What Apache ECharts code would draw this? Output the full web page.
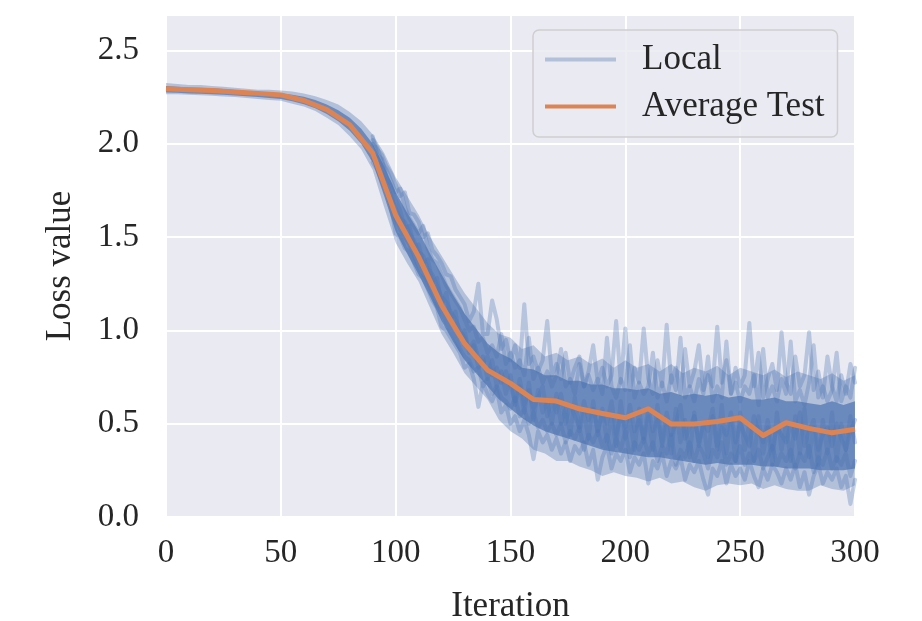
<!DOCTYPE html>
<html>
<head>
  <meta charset="utf-8">
  <title>Loss value</title>
  <script src="https://cdn.jsdelivr.net/npm/echarts@6/dist/echarts.min.js"></script>
  <style>
    html, body { margin: 0; padding: 0; background: #fff; }
    #chart { width: 922px; height: 621px; }
  </style>
</head>
<body>
<div id="chart"></div>
<script>
  // average test loss, every 10 iterations
  let testIters = [0, 10, 20, 30, 40, 50, 60, 70, 80, 90, 100, 110, 120, 130, 140, 150,
    160, 170, 180, 190, 200, 210, 220, 230, 240, 250, 260, 270, 280, 290, 300];
  let avgTest = [2.295, 2.29, 2.285, 2.278, 2.27, 2.262, 2.232, 2.183, 2.102, 1.95, 1.617,
    1.394, 1.135, 0.93, 0.787, 0.716, 0.63, 0.621, 0.58, 0.555, 0.532, 0.58, 0.498,
    0.498, 0.512, 0.532, 0.437, 0.505, 0.475, 0.451, 0.47];

  // spread of the local losses, every 5 iterations
  let bandIters = [];
  for (let it = 0; it <= 300; it += 5) bandIters.push(it);
  let outerHigh = [
    2.325, 2.32, 2.315, 2.315, 2.31, 2.305, 2.30, 2.295, 2.29, 2.29, 2.285, 2.28, 2.27,
    2.255, 2.235, 2.21, 2.17, 2.12, 2.05, 1.95, 1.82, 1.72, 1.62, 1.50, 1.40,
    1.30, 1.20, 1.12, 1.04, 0.98, 0.96, 0.90, 0.92, 0.86, 0.88, 0.84, 0.86,
    0.82, 0.85, 0.80, 0.84, 0.80, 0.82, 0.78, 0.82, 0.77, 0.80, 0.78, 0.81,
    0.76, 0.80, 0.78, 0.76, 0.79, 0.75, 0.78, 0.76, 0.74, 0.77, 0.73, 0.76];
  let outerLow = [
    2.265, 2.265, 2.262, 2.26, 2.257, 2.253, 2.25, 2.245, 2.24, 2.235, 2.23, 2.215, 2.2,
    2.175, 2.14, 2.1, 2.04, 1.97, 1.86, 1.66, 1.47, 1.36, 1.26, 1.12, 0.98,
    0.88, 0.77, 0.70, 0.63, 0.52, 0.46, 0.42, 0.36, 0.34, 0.30, 0.30, 0.27,
    0.25, 0.22, 0.24, 0.22, 0.21, 0.19, 0.21, 0.18, 0.19, 0.16, 0.14, 0.17,
    0.18, 0.17, 0.18, 0.15, 0.17, 0.15, 0.14, 0.14, 0.17, 0.15, 0.14, 0.17];
  let coreHigh = [
    2.31, 2.305, 2.302, 2.30, 2.298, 2.293, 2.288, 2.283, 2.278, 2.274, 2.27, 2.262, 2.252,
    2.235, 2.21, 2.18, 2.14, 2.08, 2.0, 1.88, 1.74, 1.63, 1.53, 1.41, 1.30,
    1.19, 1.09, 1.01, 0.93, 0.88, 0.85, 0.80, 0.79, 0.76, 0.76, 0.73, 0.73,
    0.71, 0.71, 0.69, 0.69, 0.68, 0.69, 0.66, 0.67, 0.65, 0.66, 0.65, 0.66,
    0.64, 0.65, 0.63, 0.63, 0.64, 0.62, 0.62, 0.61, 0.60, 0.62, 0.60, 0.62];
  let coreLow = [
    2.275, 2.273, 2.27, 2.268, 2.265, 2.262, 2.258, 2.254, 2.25, 2.245, 2.24, 2.228, 2.212,
    2.19, 2.16, 2.12, 2.07, 2.0, 1.90, 1.72, 1.53, 1.41, 1.30, 1.18, 1.05,
    0.94, 0.84, 0.77, 0.70, 0.63, 0.58, 0.53, 0.49, 0.46, 0.44, 0.42, 0.40,
    0.38, 0.36, 0.35, 0.34, 0.33, 0.32, 0.32, 0.31, 0.30, 0.29, 0.28, 0.29,
    0.28, 0.28, 0.28, 0.27, 0.27, 0.26, 0.26, 0.26, 0.25, 0.25, 0.25, 0.26];

  // single local curves, every 2 iterations from 90 to 300
  let localIters = [];
  for (let it = 90; it <= 300; it += 2) localIters.push(it);
  let localA = [
    2.00, 1.97, 1.94, 1.88, 1.84, 1.78, 1.72, 1.74, 1.63, 1.62,
    1.58, 1.50, 1.52, 1.43, 1.40, 1.36, 1.30, 1.29, 1.22, 1.18,
    1.14, 1.05, 1.10, 1.25, 0.98, 0.98, 1.16, 1.06, 0.90, 0.95,
    0.84, 0.92, 0.80, 1.14, 0.82, 0.86, 0.78, 0.84, 1.05, 0.76,
    0.82, 0.74, 0.88, 0.72, 0.80, 0.86, 0.70, 0.78, 0.92, 0.72,
    0.80, 0.70, 0.76, 1.05, 0.72, 1.01, 0.68, 0.80, 0.72, 1.01,
    0.74, 0.66, 0.84, 0.70, 1.03, 0.72, 0.80, 0.66, 0.90, 0.70,
    0.78, 0.92, 0.68, 0.76, 0.70, 1.02, 0.72, 0.84, 0.66, 0.80,
    0.70, 0.76, 1.04, 0.70, 0.88, 0.64, 0.74, 0.82, 0.68, 0.99,
    0.72, 0.66, 0.86, 0.70, 0.76, 0.99, 0.68, 0.78, 0.64, 0.86,
    0.70, 0.62, 0.76, 0.66, 0.82, 0.72];
  let localB = [
    1.90, 1.86, 1.80, 1.74, 1.66, 1.52, 1.50, 1.44, 1.42, 1.36,
    1.30, 1.28, 1.22, 1.16, 1.12, 1.02, 1.00, 0.96, 0.92, 0.88,
    0.80, 0.82, 0.74, 0.59, 0.72, 0.66, 0.62, 0.68, 0.56, 0.60,
    0.50, 0.54, 0.46, 0.52, 0.44, 0.31, 0.46, 0.40, 0.44, 0.36,
    0.42, 0.34, 0.40, 0.30, 0.38, 0.34, 0.40, 0.28, 0.36, 0.20,
    0.32, 0.38, 0.26, 0.34, 0.30, 0.36, 0.24, 0.32, 0.28, 0.34,
    0.18, 0.30, 0.26, 0.34, 0.22, 0.30, 0.26, 0.32, 0.20, 0.28,
    0.24, 0.30, 0.20, 0.12, 0.26, 0.22, 0.30, 0.18, 0.28, 0.22,
    0.26, 0.20, 0.30, 0.22, 0.16, 0.26, 0.20, 0.28, 0.24, 0.18,
    0.26, 0.20, 0.28, 0.16, 0.24, 0.12, 0.22, 0.28, 0.18, 0.24,
    0.20, 0.26, 0.16, 0.22, 0.07, 0.20];
  let localC = [
    1.95, 1.92, 1.85, 1.80, 1.72, 1.65, 1.60, 1.58, 1.52, 1.48,
    1.42, 1.40, 1.33, 1.30, 1.24, 1.18, 1.15, 1.10, 1.06, 1.00,
    0.96, 0.90, 0.94, 0.85, 0.82, 0.86, 0.76, 0.80, 0.72, 0.78,
    0.70, 0.62, 0.74, 0.60, 0.68, 0.58, 0.64, 0.70, 0.54, 0.62,
    0.56, 0.66, 0.50, 0.60, 0.54, 0.48, 0.62, 0.52, 0.58, 0.46,
    0.56, 0.50, 0.62, 0.44, 0.54, 0.48, 0.60, 0.46, 0.52, 0.42,
    0.58, 0.46, 0.52, 0.40, 0.56, 0.44, 0.50, 0.60, 0.42, 0.48,
    0.54, 0.40, 0.50, 0.46, 0.58, 0.38, 0.48, 0.44, 0.56, 0.40,
    0.50, 0.44, 0.38, 0.54, 0.46, 0.40, 0.52, 0.36, 0.48, 0.44,
    0.40, 0.50, 0.42, 0.56, 0.38, 0.46, 0.52, 0.36, 0.44, 0.48,
    0.38, 0.50, 0.42, 0.36, 0.46, 0.52];
  let localD = [
    2.02, 1.98, 1.90, 1.86, 1.80, 1.74, 1.76, 1.66, 1.60, 1.56,
    1.52, 1.56, 1.44, 1.38, 1.36, 1.30, 1.24, 1.20, 1.16, 1.12,
    1.06, 1.00, 1.02, 0.94, 0.96, 0.88, 0.92, 0.86, 0.98, 0.82,
    0.88, 0.80, 0.84, 0.76, 0.96, 0.74, 0.80, 0.72, 0.78, 0.70,
    0.76, 0.90, 0.70, 0.74, 0.66, 0.82, 0.70, 0.76, 0.68, 0.74,
    0.66, 0.96, 0.70, 0.64, 0.74, 0.68, 0.92, 0.64, 0.72, 0.66,
    0.70, 0.88, 0.64, 0.72, 0.62, 0.76, 0.68, 0.96, 0.64, 0.70,
    0.62, 0.74, 0.66, 0.86, 0.62, 0.70, 0.64, 0.94, 0.66, 0.72,
    0.62, 0.70, 0.66, 0.76, 0.60, 0.90, 0.64, 0.70, 0.62, 0.74,
    0.66, 0.94, 0.62, 0.68, 0.60, 0.72, 0.92, 0.64, 0.70, 0.62,
    0.68, 0.88, 0.62, 0.70, 0.64, 0.80];
  let localE = [
    1.92, 1.90, 1.82, 1.76, 1.70, 1.60, 1.54, 1.50, 1.46, 1.40,
    1.34, 1.30, 1.26, 1.20, 1.14, 1.10, 1.04, 1.00, 0.96, 0.90,
    0.86, 0.84, 0.78, 0.80, 0.70, 0.74, 0.66, 0.70, 0.64, 0.62,
    0.58, 0.64, 0.54, 0.58, 0.50, 0.56, 0.48, 0.52, 0.46, 0.50,
    0.44, 0.50, 0.40, 0.46, 0.42, 0.48, 0.36, 0.44, 0.40, 0.46,
    0.38, 0.44, 0.34, 0.42, 0.36, 0.46, 0.32, 0.40, 0.36, 0.42,
    0.34, 0.40, 0.30, 0.38, 0.34, 0.44, 0.28, 0.36, 0.32, 0.40,
    0.30, 0.38, 0.34, 0.26, 0.36, 0.32, 0.40, 0.28, 0.34, 0.30,
    0.38, 0.28, 0.34, 0.30, 0.36, 0.26, 0.32, 0.38, 0.28, 0.34,
    0.30, 0.36, 0.26, 0.34, 0.30, 0.38, 0.24, 0.32, 0.28, 0.36,
    0.26, 0.32, 0.28, 0.34, 0.22, 0.30];
  let localF = [
    2.04, 1.94, 1.92, 1.82, 1.78, 1.70, 1.64, 1.55, 1.56, 1.45,
    1.46, 1.36, 1.38, 1.26, 1.28, 1.14, 1.20, 1.06, 1.10, 0.96,
    1.00, 0.88, 0.92, 0.80, 0.86, 0.74, 0.84, 0.70, 0.78, 0.66,
    0.76, 0.60, 0.70, 0.56, 0.72, 0.52, 0.68, 0.56, 0.62, 0.50,
    0.66, 0.50, 0.58, 0.44, 0.64, 0.46, 0.56, 0.42, 0.62, 0.44,
    0.58, 0.40, 0.54, 0.38, 0.62, 0.42, 0.52, 0.36, 0.58, 0.40,
    0.54, 0.36, 0.60, 0.38, 0.50, 0.34, 0.58, 0.40, 0.52, 0.32,
    0.56, 0.38, 0.50, 0.32, 0.54, 0.36, 0.60, 0.34, 0.52, 0.30,
    0.56, 0.36, 0.50, 0.30, 0.54, 0.34, 0.48, 0.28, 0.56, 0.36,
    0.50, 0.30, 0.54, 0.34, 0.58, 0.32, 0.48, 0.28, 0.52, 0.34,
    0.56, 0.30, 0.50, 0.36, 0.54, 0.40];

  let yTicks = [0, 0.5, 1.0, 1.5, 2.0, 2.5];

  let font = '"Liberation Serif", "DejaVu Serif", serif';
  let orange = '#DD8452';

  function zip(xs, ys) {
    return xs.map(function (x, i) { return [x, ys[i]]; });
  }

  // filled band between two curves, drawn as one polygon
  function band(name, lows, highs, fill, z) {
    return {
      type: 'custom',
      name: name,
      silent: true,
      z: z,
      data: bandIters.map(function (x, i) { return [x, lows[i], highs[i]]; }),
      encode: { x: 0, y: [1, 2] },
      renderItem: function (params, api) {
        if (params.dataIndex !== 0) return;
        let pts = [];
        for (let i = 0; i < bandIters.length; i++) pts.push(api.coord([bandIters[i], highs[i]]));
        for (let i = bandIters.length - 1; i >= 0; i--) pts.push(api.coord([bandIters[i], lows[i]]));
        return { type: 'polygon', shape: { points: pts }, style: { fill: fill } };
      }
    };
  }

  function localLine(values) {
    return {
      type: 'line',
      name: 'Local',
      data: zip(localIters, values),
      showSymbol: false,
      color: 'rgba(76,114,176,0.35)',
      lineStyle: { width: 4, color: 'rgba(76,114,176,0.32)', cap: 'round', join: 'round' },
      z: 3
    };
  }

  let myChart = echarts.init(document.getElementById('chart'));
  let option = {
    animation: false,
    textStyle: { fontFamily: font },
    grid: {
      left: 166, right: 67, top: 15, bottom: 104,
      outerBoundsMode: 'none',
      show: true, backgroundColor: '#EAEAF2', borderWidth: 0
    },
    legend: {
      orient: 'vertical',
      left: 533, top: 30,
      padding: [12, 13, 13, 12],
      itemWidth: 71, itemHeight: 4, itemGap: 12,
      backgroundColor: 'rgba(234,234,242,0.85)',
      borderColor: '#cfcfcf', borderWidth: 1.5, borderRadius: 6,
      textStyle: { fontFamily: font, fontSize: 35, color: '#262626', padding: [0, 0, 0, 21] },
      data: [
        { name: 'Local', icon: 'rect', itemStyle: { color: 'rgba(76,114,176,0.35)' } },
        { name: 'Average Test', icon: 'rect', itemStyle: { color: orange } }
      ]
    },
    xAxis: {
      type: 'value', min: 0, max: 300, interval: 50,
      name: 'Iteration', nameLocation: 'middle', nameGap: 72,
      nameTextStyle: { fontFamily: font, fontSize: 35, color: '#262626' },
      axisLine: { show: false }, axisTick: { show: false },
      axisLabel: { fontFamily: font, fontSize: 33, color: '#262626', margin: 20 },
      splitLine: { lineStyle: { color: '#ffffff', width: 2 } }
    },
    yAxis: {
      type: 'value', min: 0, max: 2.69, interval: 0.5,
      name: 'Loss value', nameLocation: 'middle', nameGap: 88,
      nameTextStyle: { fontFamily: font, fontSize: 35, color: '#262626' },
      axisLine: { show: false }, axisTick: { show: false },
      axisLabel: {
        fontFamily: font, fontSize: 33, color: '#262626', margin: 27,
        showMaxLabel: false,
        formatter: function (v) { return yTicks.indexOf(v) >= 0 ? v.toFixed(1) : ''; }
      },
      splitLine: { lineStyle: { color: '#ffffff', width: 2 } }
    },
    series: [
      band('outer', outerLow, outerHigh, 'rgba(76,114,176,0.35)', 1),
      band('core', coreLow, coreHigh, 'rgba(76,114,176,0.7)', 2),
      localLine(localA),
      localLine(localB),
      localLine(localC),
      localLine(localD),
      localLine(localE),
      localLine(localF),
      {
        type: 'line',
        name: 'Average Test',
        data: zip(testIters, avgTest),
        showSymbol: false,
        color: orange,
        lineStyle: { width: 5, color: orange, join: 'round' },
        z: 5
      }
    ]
  };
  myChart.setOption(option);
</script>
</body>
</html>
